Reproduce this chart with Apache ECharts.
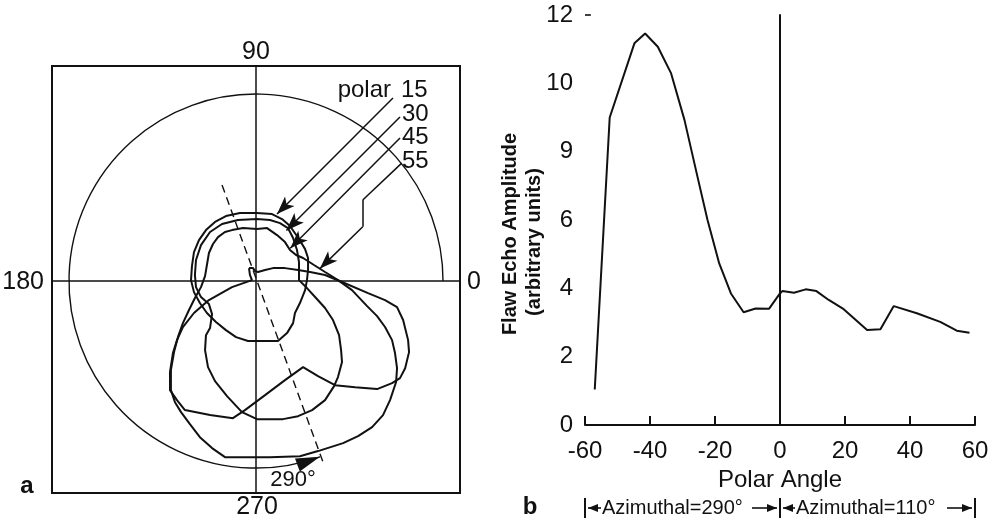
<!DOCTYPE html>
<html><head><meta charset="utf-8">
<script src="https://cdn.jsdelivr.net/npm/echarts@6/dist/echarts.min.js"></script>
<style>html,body{margin:0;padding:0;background:#fff}#c{width:1000px;height:520px}</style>
</head><body><div id="c"></div>
<script>
// ---------- Panel a: azimuthal patterns (x, y) in amplitude units, outer circle = 12 ----------
const polar15 = [[0.06,4.37],[1.03,4.30],[1.67,3.98],[2.18,3.53],[2.76,2.70],[3.15,2.05],[3.34,1.48],[3.34,0.71],[3.27,0.06],[3.15,-0.58],[2.82,-1.41],[2.50,-2.05],[2.38,-2.70],[1.99,-3.34],[1.41,-3.85],[0.39,-3.85],[-0.51,-3.85],[-1.28,-3.60],[-1.93,-3.15],[-2.57,-2.63],[-3.15,-2.05],[-3.60,-1.41],[-3.98,-0.71],[-4.17,0.06],[-4.11,0.96],[-3.98,1.86],[-3.66,2.63],[-3.21,3.27],[-2.63,3.79],[-1.93,4.17],[-1.03,4.37]];
const polar30 = [[0.06,3.98],[0.90,3.92],[1.54,3.72],[2.05,3.40],[2.38,2.76],[2.63,1.99],[2.76,1.22],[2.76,0.06],[3.27,-0.45],[3.85,-1.09],[4.43,-1.73],[4.94,-2.50],[5.33,-3.47],[5.46,-4.43],[5.52,-5.20],[5.26,-6.16],[5.01,-6.74],[4.43,-7.64],[3.60,-8.28],[2.70,-8.67],[1.73,-8.86],[0.06,-8.86],[-0.90,-8.41],[-1.86,-7.38],[-2.63,-6.42],[-3.08,-5.52],[-3.27,-4.43],[-3.21,-3.47],[-2.95,-3.02],[-2.82,-2.12],[-3.02,-1.48],[-3.53,-1.03],[-3.85,-0.39],[-3.92,0.39],[-3.85,1.35],[-3.53,2.31],[-2.95,3.15],[-2.18,3.66],[-1.16,3.92]];
const polar45 = [[0.06,3.34],[0.71,3.40],[1.35,2.95],[1.86,2.50],[2.18,1.99],[2.57,1.67],[3.02,1.48],[3.72,1.03],[4.43,0.58],[5.26,0.06],[6.16,-0.58],[7.13,-1.61],[7.77,-2.25],[8.28,-2.95],[8.73,-3.79],[8.92,-4.62],[9.05,-5.59],[8.99,-6.48],[8.60,-7.64],[8.15,-8.60],[7.45,-9.37],[6.55,-9.95],[5.59,-10.40],[3.98,-10.91],[2.82,-11.24],[0.90,-11.30],[-0.71,-11.30],[-1.99,-11.30],[-2.82,-10.72],[-3.60,-10.02],[-4.24,-9.18],[-4.81,-8.41],[-5.20,-7.77],[-5.46,-7.00],[-5.46,-5.71],[-5.26,-4.56],[-5.01,-3.60],[-4.69,-2.70],[-4.30,-1.86],[-3.92,-1.09],[-3.53,-0.39],[-3.27,0.32],[-3.15,1.03],[-3.02,1.80],[-2.76,2.38],[-2.44,2.82],[-1.99,3.15],[-1.54,3.27],[-0.83,3.40]];
const polar55 = [[-0.45,0.83],[-0.19,0.83],[-0.06,0.64],[0.13,0.58],[0.58,0.71],[1.09,0.83],[1.86,0.83],[2.70,0.71],[3.47,0.58],[4.43,0.39],[5.52,-0.06],[7.19,-0.77],[8.28,-1.22],[9.05,-1.67],[9.44,-2.50],[9.76,-3.79],[9.82,-4.56],[9.57,-5.59],[9.24,-6.23],[8.73,-6.55],[7.77,-6.93],[6.36,-6.81],[5.07,-6.68],[3.98,-6.10],[3.02,-5.52],[1.86,-6.36],[0.58,-7.32],[-0.71,-8.28],[-1.48,-8.80],[-2.95,-8.60],[-4.56,-8.28],[-5.07,-7.64],[-5.52,-7.00],[-5.52,-5.84],[-5.33,-4.62],[-5.07,-3.79],[-4.69,-2.95],[-3.98,-2.05],[-3.02,-1.22],[-1.54,-0.39],[-0.26,0.06],[-0.39,0.39]];
const circleRadius = 12;
const azimuthLine = [[-2.18,6.16],[4.30,-11.62]];          // 110° – 290° direction
const pointerPaths = [                                      // from labels to curves
  [[8.79,11.75],[1.35,4.30]],
  [[9.24,10.53],[1.95,3.25]],
  [[9.24,9.18],[2.20,2.10]],
  [[9.35,7.57],[6.85,5.20],[6.85,3.49],[4.10,0.80]]
];
const curveLabels = ['15','30','45','55'];
const angleLabels = ['0','90','180','270'];

// ---------- Panel b: flaw echo amplitude vs polar angle ----------
const polarAngle = [-57.0,-52.4,-44.8,-41.5,-37.6,-33.5,-29.4,-25.4,-22.3,-18.7,-15.1,-11.2,-7.5,-3.4,0.0,0.7,4.3,7.9,11.2,15.0,19.6,26.8,30.9,35.0,42.1,49.3,54.4,58.3];
const amplitude  = [1.04,9.00,11.17,11.46,11.07,10.29,8.93,7.27,6.00,4.73,3.85,3.30,3.41,3.40,3.85,3.92,3.87,3.97,3.92,3.66,3.39,2.78,2.80,3.48,3.27,3.02,2.76,2.70];
const yTickLabels = ['0','2','4','6','9','10','12'];
const azimuthNotes = ['Azimuthal=290°','Azimuthal=110°'];

const F = 'Liberation Sans';
const INK = '#111';
const closed = a => a.concat([a[0]]);
const curve = d => ({
  type:'line', xAxisIndex:0, yAxisIndex:0, data:closed(d), symbol:'none', showSymbol:false,
  lineStyle:{color:INK,width:2}, silent:true, z:3
});

const pointerData = [];
pointerPaths.forEach(p => {
  for (let i = 0; i < p.length - 1; i++) {
    const last = i === p.length - 2;
    pointerData.push([{coord:p[i], symbol:'none'}, {coord:p[i+1], symbol: last ? 'arrow' : 'none'}]);
  }
});

const chart = echarts.init(document.getElementById('c'), null, {renderer:'canvas'});
const hiddenAxis = {axisTick:{show:false}, axisLabel:{show:false}, splitLine:{show:false}};
chart.setOption({
  animation:false,
  backgroundColor:'#fff',
  grid:[
    {left:52, top:66, width:408, height:427, show:true, borderColor:INK, borderWidth:2, backgroundColor:'transparent'},
    {left:585, top:15, right:25, bottom:95}
  ],
  xAxis:[
    Object.assign({gridIndex:0, type:'value', min:-13.09, max:13.09,
      axisLine:{show:true, onZero:true, lineStyle:{color:INK,width:1.5}}}, hiddenAxis),
    {gridIndex:1, type:'value', min:-60, max:60, interval:20,
      axisLine:{show:true, onZero:false, lineStyle:{color:INK,width:2}},
      axisTick:{show:true, inside:true, length:9, lineStyle:{color:INK,width:2}},
      axisLabel:{color:INK, fontFamily:F, fontSize:24, margin:14},
      splitLine:{show:false},
      name:'Polar Angle', nameLocation:'middle', nameGap:42,
      nameTextStyle:{color:INK, fontFamily:F, fontSize:24}}
  ],
  yAxis:[
    Object.assign({gridIndex:0, type:'value', min:-13.6, max:13.8,
      axisLine:{show:true, onZero:true, lineStyle:{color:INK,width:1.5}}}, hiddenAxis),
    {gridIndex:1, type:'value', min:0, max:12, interval:2,
      axisLine:{show:true, lineStyle:{color:INK,width:2}},
      axisTick:{show:false},
      axisLabel:{color:INK, fontFamily:F, fontSize:24, margin:12,
        formatter: v => yTickLabels[Math.round(v/2)]},
      splitLine:{show:false}}
  ],
  series:[
    Object.assign(curve(polar15), {markLine:{silent:true, symbolSize:[10,18], animation:false,
      lineStyle:{color:INK, width:1.5, type:'solid'}, label:{show:false}, data:pointerData}}),
    curve(polar30), curve(polar45), curve(polar55),
    {type:'line', xAxisIndex:0, yAxisIndex:0, data:azimuthLine, symbol:'none',
      lineStyle:{color:INK, width:1.4, type:[8,5]}, silent:true},
    {type:'line', xAxisIndex:1, yAxisIndex:1, data:polarAngle.map((a,i)=>[a, amplitude[i]]),
      symbol:'none', lineStyle:{color:INK, width:2}, silent:true,
      markLine:{silent:true, symbol:['none','none'], label:{show:false}, animation:false,
        lineStyle:{color:INK, width:1.6, type:'solid'},
        data:[{xAxis:0}, [{coord:[-60,12]},{coord:[-58.2,12]}]]}}
  ]
});

// ---------- decorations that depend on the axes ----------
const o = chart.convertToPixel({gridIndex:0}, [0,0]);
const rpx = chart.convertToPixel({gridIndex:0}, [circleRadius,0])[0] - o[0];
const a290 = 290*Math.PI/180;
const tip = [o[0] + rpx*Math.cos(a290), o[1] - rpx*Math.sin(a290)];
const tdir = [-Math.sin(a290), -Math.cos(a290)]; // ccw tangent in screen coords
const perp = [-tdir[1], tdir[0]];
const L = 24, W = 7;
const headPts = [tip,
  [tip[0]-L*tdir[0]+W*perp[0], tip[1]-L*tdir[1]+W*perp[1]],
  [tip[0]-L*tdir[0]-W*perp[0], tip[1]-L*tdir[1]-W*perp[1]]];

const txt = (text, x, y, size, align, extra) => Object.assign({
  type:'text', x, y, silent:true,
  style:Object.assign({text, fill:INK, fontFamily:F, fontSize:size, align:align||'center', verticalAlign:'middle'}, extra||{})
});

const pb0 = chart.convertToPixel({gridIndex:1}, [-60,0]);
const pb1 = chart.convertToPixel({gridIndex:1}, [0,0]);
const pb2 = chart.convertToPixel({gridIndex:1}, [60,0]);
const by = 508;
const bar = x => ({type:'line', silent:true, shape:{x1:x,y1:by-10,x2:x,y2:by+10}, style:{stroke:INK,lineWidth:2}});
const shaft = (x1,x2) => ({type:'line', silent:true, shape:{x1,y1:by,x2,y2:by}, style:{stroke:INK,lineWidth:1.6}});
const head = (x, dir) => ({type:'polygon', silent:true, shape:{points:[[x,by],[x-dir*10,by-4],[x-dir*10,by+4]]}, style:{fill:INK}});

const g = [
  {type:'arc', silent:true, shape:{cx:o[0], cy:o[1], r:rpx, startAngle:70*Math.PI/180, endAngle:2*Math.PI, clockwise:true},
    style:{stroke:INK, lineWidth:1.4, fill:null}},
  {type:'polygon', silent:true, shape:{points:headPts}, style:{fill:INK}},
  txt('290°', 293, 480, 22),
  txt(angleLabels[1], 256, 52, 25),
  txt(angleLabels[2], 44, 282, 25, 'right'),
  txt(angleLabels[0], 474, 282, 25),
  txt(angleLabels[3], 257, 507, 25),
  txt('a', 27, 486, 24, 'center', {fontWeight:'bold'}),
  txt('polar', 391, 90, 24, 'right'),
  txt(curveLabels[0], 401, 90, 24, 'left'),
  txt(curveLabels[1], 402, 114, 24, 'left'),
  txt(curveLabels[2], 402, 137, 24, 'left'),
  txt(curveLabels[3], 402, 161, 24, 'left'),
  txt('b', 530, 507, 24, 'center', {fontWeight:'bold'}),
  Object.assign(txt('Flaw Echo Amplitude', 510, 234, 20, 'center', {fontWeight:'bold'}), {rotation:Math.PI/2}),
  Object.assign(txt('(arbitrary units)', 534, 242, 20, 'center', {fontWeight:'bold'}), {rotation:Math.PI/2}),
  bar(pb0[0]), bar(pb1[0]), bar(pb2[0]),
  shaft(pb0[0]+3, pb0[0]+16), head(pb0[0]+3, -1),
  txt(azimuthNotes[0], pb0[0]+17, by, 20, 'left'),
  shaft(pb1[0]-28, pb1[0]-3), head(pb1[0]-3, 1),
  shaft(pb1[0]+3, pb1[0]+15), head(pb1[0]+3, -1),
  txt(azimuthNotes[1], pb1[0]+16, by, 20, 'left'),
  shaft(pb2[0]-28, pb2[0]-3), head(pb2[0]-3, 1)
];
chart.setOption({graphic:{elements:g}});
</script></body></html>
